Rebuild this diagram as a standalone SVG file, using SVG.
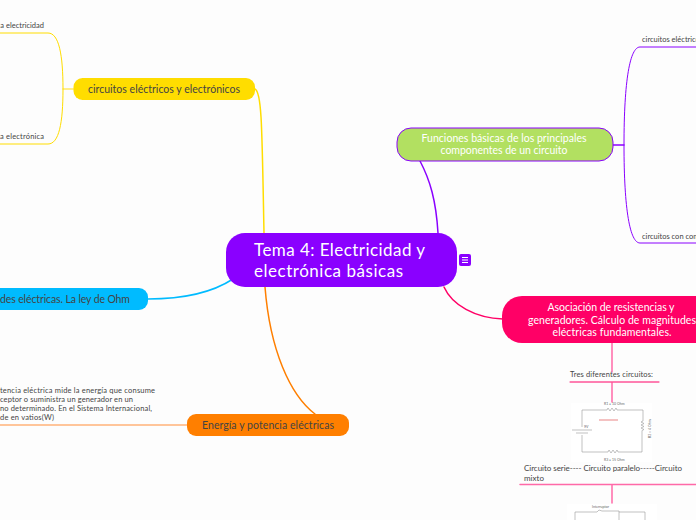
<svg xmlns="http://www.w3.org/2000/svg" width="696" height="520" viewBox="0 0 696 520">
<style>
text{font-family:"Lato","Noto Sans","Liberation Sans",sans-serif;fill:#444}
.c{fill:none;stroke-linecap:round}
.s{font-size:7.5px}
.m{font-size:10.5px;text-anchor:middle}
.k{fill:none;stroke:#999;stroke-width:.6}
.t{font-size:3.5px;fill:#666}
.l{fill:#fff}
</style>
<rect width="696" height="520" fill="#fdfdfd"/>
<g id="connectors">
<path class="c" d="M255 89C262 92 262 130 264 233" stroke="#ffdd00" stroke-width="1.500"/>
<path class="c" d="M63 89H73.500" stroke="#ffe866" stroke-width="1.500"/>
<path class="c" d="M-2 33H48C59 33 63 55 63 89C63 123 59 144 48 144H-2" stroke="#ffdd00" stroke-width="1"/>
<path class="c" d="M148 299C180 299 210 294 233 279" stroke="#00bbff" stroke-width="1.500"/>
<path class="c" d="M265 287C270 350 290 395 315 414" stroke="#ff7f00" stroke-width="1.500"/>
<path class="c" d="M-2 425H187" stroke="#ffb27a" stroke-width="1.500"/>
<path class="c" d="M420 161C430 180 436 200 438 233" stroke="#8a00ff" stroke-width="1.500"/>
<path class="c" d="M613 145H624" stroke="#8a00ff" stroke-width="1.500"/>
<path class="c" d="M698 47H640C630 47 624 80 624 145C624 210 630 243 640 243H698" stroke="#8a00ff" stroke-width="1"/>
<path class="c" d="M444 287C452 305 475 318 503 319" stroke="#ff0066" stroke-width="1.500"/>
<path class="c" d="M612 343V372M612 383V402M612 485V503" stroke="#ff69a8" stroke-width="1.500"/>
<path class="c" d="M570 382H659" stroke="#ff0066" stroke-width="1"/>
<path class="c" d="M520 484.500H696" stroke="#ff69a8" stroke-width="1.500"/>
</g>
<g id="central">
<rect x="226" y="233" width="231" height="54" rx="19" fill="#8a00ff"/>
<text x="254" y="256" font-size="17" class="l" textLength="171">Tema 4: Electricidad y</text>
<text x="254" y="277" font-size="17" class="l" textLength="149">electrónica básicas</text>
<rect x="459" y="254" width="12" height="12" rx="2" fill="#8a00ff"/>
<path d="M462 257.500H468M462 260H468M462 262.500H468" stroke="#fff" stroke-width="1"/>
</g>
<g id="circuitos">
<rect x="73.500" y="78" width="181.500" height="22" rx="9" fill="#ffdd00"/>
<text x="164" y="92.500" class="m" textLength="152">circuitos eléctricos y electrónicos</text>
</g>
<g id="electricidad"><text x="44" y="28" class="s" text-anchor="end">a electricidad</text></g>
<g id="electronica"><text x="0" y="139" class="s" textLength="44">a electrónica</text></g>
<g id="ohm">
<rect x="-40" y="288" width="188" height="22" rx="9" fill="#00bbff"/>
<text x="0" y="303" font-size="10.500" textLength="130">des eléctricas. La ley de Ohm</text>
</g>
<g id="energia">
<rect x="187" y="414" width="162" height="22" rx="9" fill="#ff7f00"/>
<text x="268" y="429" class="m" textLength="132">Energía y potencia eléctricas</text>
</g>
<g id="potencia">
<text x="0" y="393" class="s" textLength="155">tencia eléctrica mide la energía que consume</text>
<text x="0" y="402" class="s" textLength="133">ceptor o suministra un generador en un</text>
<text x="0" y="411" class="s" textLength="152">no determinado. En el Sistema Internacional,</text>
<text x="0" y="420" class="s" textLength="54">de en vatios(W)</text>
</g>
<g id="funciones">
<rect x="397" y="128" width="216" height="33" rx="14" fill="#b2e061" stroke="#8a00ff" stroke-width="1"/>
<text x="504" y="142" class="m l" textLength="165">Funciones básicas de los principales</text>
<text x="504" y="154" class="m l" textLength="127">componentes de un circuito</text>
</g>
<g id="c1"><text x="642" y="42" class="s">circuitos eléctricos</text></g>
<g id="c2"><text x="642" y="239" class="s">circuitos con componentes</text></g>
<g id="asociacion">
<rect x="502" y="296" width="230" height="47" rx="20" fill="#ff0066"/>
<text x="611" y="311" class="m l" textLength="127">Asociación de resistencias y</text>
<text x="612" y="323.500" class="m l" textLength="168">generadores. Cálculo de magnitudes</text>
<text x="612" y="336" class="m l" textLength="119">eléctricas fundamentales.</text>
</g>
<g id="tres"><text x="570" y="377" class="s" textLength="83">Tres diferentes circuitos:</text></g>
<g id="serie">
<rect x="571" y="403" width="81" height="59" fill="#fff"/>
<path class="k" d="M582 427V410H607l1-2 2 3 2-3 2 3 2-3 1 2H643V421l-2 1 3 1.500-3 1.500 3 1.500-3 1.500 3 1.500-2 1V452H618l-1-2-2 3-2-3-2 3-2-3-1 2H582V435M572 430H592M576 433H588"/>
<path d="M599 420H618" stroke="#e05050" stroke-width=".7"/>
<text x="604" y="405" class="t">R1 = 10 Ohm</text>
<text x="604" y="461" class="t">R3 = 15 Ohm</text>
<text x="584" y="428" class="t">9V</text>
<text x="651" y="438" class="t" transform="rotate(-90 651 438)">R2 = 4 Ohm</text>
<text x="524" y="471" font-size="8" textLength="158">Circuito serie---- Circuito paralelo-----Circuito</text>
<text x="524" y="481" font-size="8" textLength="20">mixto</text>
</g>
<g id="mixto">
<rect x="567" y="504" width="90" height="16" fill="#fff"/>
<path class="k" d="M575 520V512H597l2-2 3 1 H619V520M619 512H645V520"/>
<text x="592" y="508" class="t">Interruptor</text>
</g>
</svg>
